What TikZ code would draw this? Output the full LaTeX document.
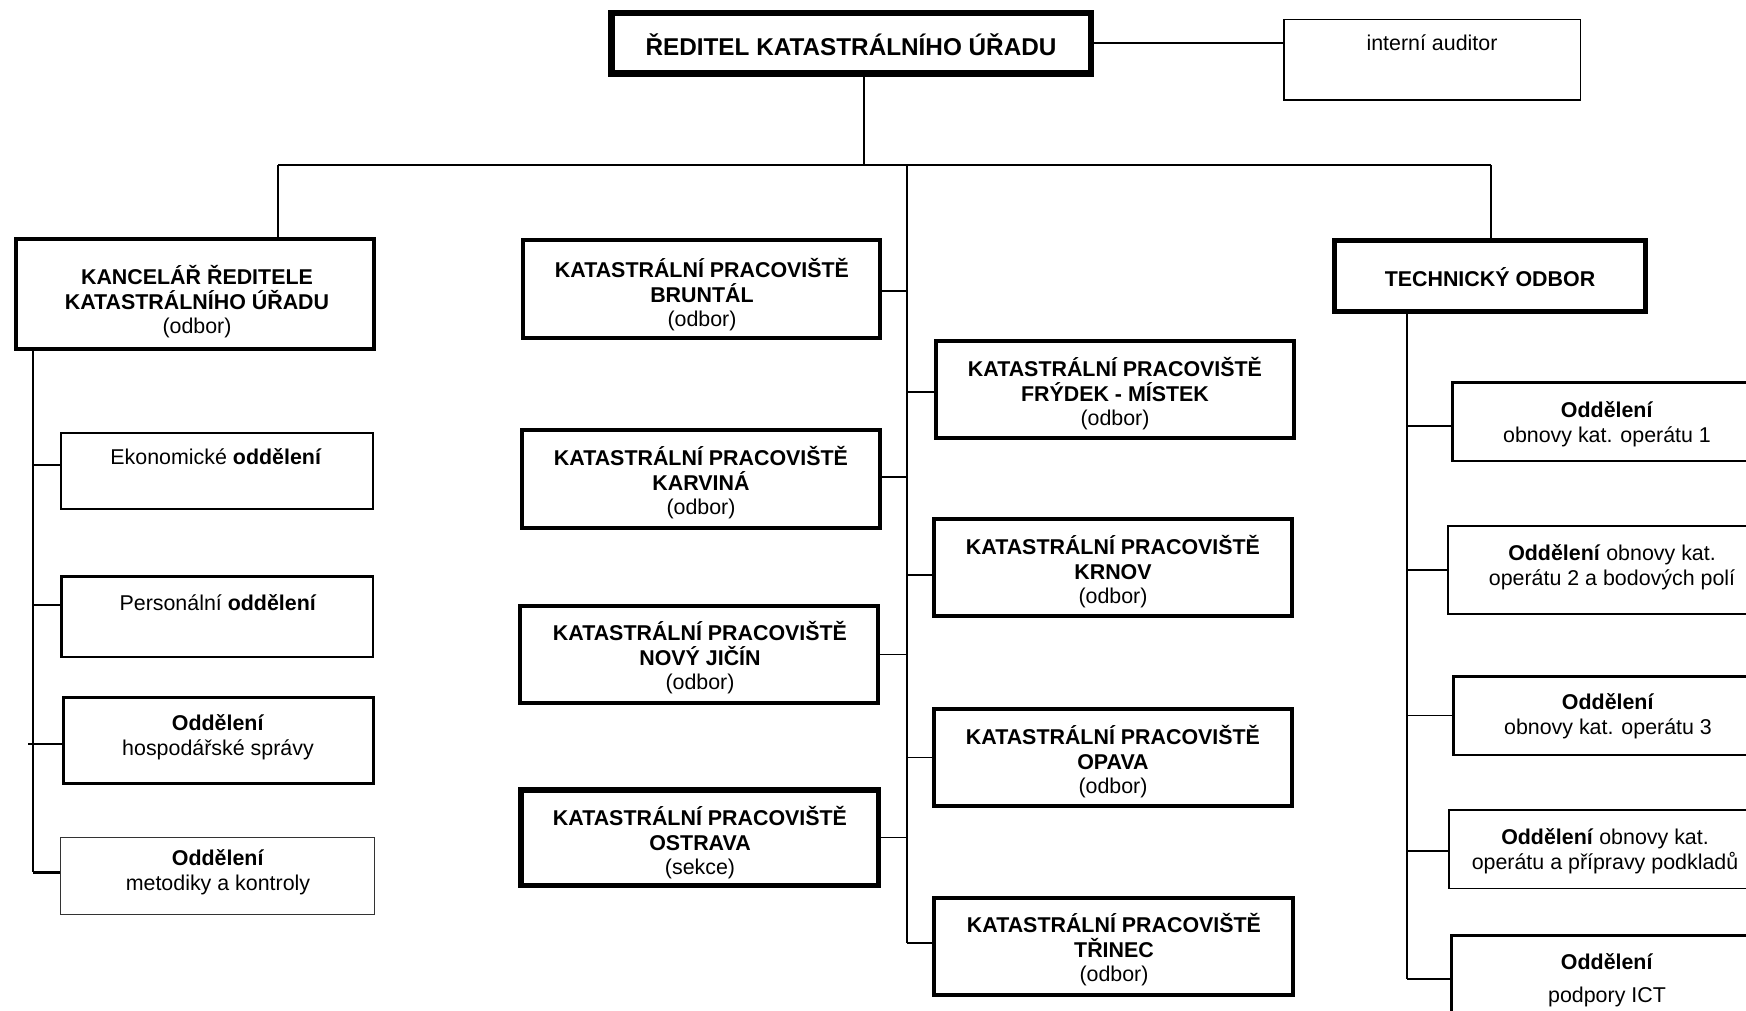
\documentclass[tikz,border=0pt]{standalone}
\usepackage{fontspec}
\setmainfont{Liberation Sans}
\begin{document}
\begin{tikzpicture}[x=1pt,y=-1pt,
  box/.style={draw=black, rectangle, inner sep=0pt},
  txt/.style={align=center, inner sep=0pt, font=\fontsize{21.4}{24.5}\selectfont},
  conn/.style={draw=black, line width=1.5pt}]
\useasboundingbox (0,0) rectangle (1746,1011);
\clip (0,0) rectangle (1746,1011);
\fill[white] (0,0) rectangle (1746,1011);

% top
\node[box, line width=6.5pt, minimum width=479.5pt, minimum height=60.5pt] (dir) at (851,43.5) {};
\node[txt, font=\fontsize{24.3}{28}\selectfont\bfseries] (dirt) at (851,45) {ŘEDITEL KATASTRÁLNÍHO ÚŘADU};
\node[box, line width=1.5pt, minimum width=296.5pt, minimum height=80.5pt] (aud) at (1432,60) {};
\node[txt] (audt) at (1432,43) {interní auditor};

% left column
\node[box, line width=4pt, minimum width=358pt, minimum height=110pt] (kan) at (195,294) {};
\node[txt] (kant) at (197,302) {\textbf{KANCELÁŘ ŘEDITELE}\\\textbf{KATASTRÁLNÍHO ÚŘADU}\\(odbor)};
\node[box, line width=2pt, minimum width=312pt, minimum height=76pt] (eko) at (217,471) {};
\node[txt] (ekot) at (216,457) {Ekonomické \textbf{oddělení}};
\node[box, line width=2.5pt, minimum width=311.5pt, minimum height=80.5pt] (per) at (217,616.5) {};
\node[txt] (pert) at (218,603) {Personální \textbf{oddělení}};
\node[box, line width=3pt, minimum width=310pt, minimum height=86pt] (hos) at (218.5,740.5) {};
\node[txt] (host) at (218,737) {\textbf{Oddělení}\\hospodářské správy};
\node[box, line width=1pt, draw=black!80, minimum width=314pt, minimum height=77pt] (met) at (217.5,876) {};
\node[txt] (mett) at (218,872) {\textbf{Oddělení}\\metodiky a kontroly};

% middle left column
\node[box, line width=4pt, minimum width=357pt, minimum height=98pt] (bru) at (701.5,289) {};
\node[txt] (brut) at (702,295) {\textbf{KATASTRÁLNÍ PRACOVIŠTĚ}\\\textbf{BRUNTÁL}\\(odbor)};
\node[box, line width=4pt, minimum width=358pt, minimum height=98pt] (kar) at (701,479) {};
\node[txt] (kart) at (701,483) {\textbf{KATASTRÁLNÍ PRACOVIŠTĚ}\\\textbf{KARVINÁ}\\(odbor)};
\node[box, line width=4pt, minimum width=358pt, minimum height=97pt] (nj) at (699,654.5) {};
\node[txt] (njt) at (700,658) {\textbf{KATASTRÁLNÍ PRACOVIŠTĚ}\\\textbf{NOVÝ JIČÍN}\\(odbor)};
\node[box, line width=5.5pt, minimum width=357.5pt, minimum height=95.5pt] (ost) at (699.5,837.5) {};
\node[txt] (ostt) at (700,843) {\textbf{KATASTRÁLNÍ PRACOVIŠTĚ}\\\textbf{OSTRAVA}\\(sekce)};

% middle right column
\node[box, line width=4pt, minimum width=358pt, minimum height=97pt] (fm) at (1115,389.5) {};
\node[txt] (fmt) at (1115,394) {\textbf{KATASTRÁLNÍ PRACOVIŠTĚ}\\\textbf{FRÝDEK - MÍSTEK}\\(odbor)};
\node[box, line width=4pt, minimum width=358pt, minimum height=97pt] (krn) at (1113,567.5) {};
\node[txt] (krnt) at (1113,572) {\textbf{KATASTRÁLNÍ PRACOVIŠTĚ}\\\textbf{KRNOV}\\(odbor)};
\node[box, line width=4pt, minimum width=358pt, minimum height=97pt] (opa) at (1113,757.5) {};
\node[txt] (opat) at (1113,762) {\textbf{KATASTRÁLNÍ PRACOVIŠTĚ}\\\textbf{OPAVA}\\(odbor)};
\node[box, line width=4pt, minimum width=359pt, minimum height=97pt] (tri) at (1113.5,946.5) {};
\node[txt] (trit) at (1114,950) {\textbf{KATASTRÁLNÍ PRACOVIŠTĚ}\\\textbf{TŘINEC}\\(odbor)};

% right column
\node[box, line width=5pt, minimum width=311pt, minimum height=71pt] (tec) at (1490,276) {};
\node[txt] (tect) at (1490,277) {\textbf{TECHNICKÝ ODBOR}};
\node[box, line width=2.5pt, minimum width=312.5pt, minimum height=78.5pt] (o1) at (1608.5,421.5) {};
\node[txt] (o1t) at (1607,424) {\textbf{Oddělení}\\obnovy kat. operátu 1};
\node[box, line width=2pt, minimum width=317pt, minimum height=88pt] (o2) at (1606.5,570) {};
\node[txt] (o2t) at (1612,567) {\textbf{Oddělení} obnovy kat.\\operátu 2 a bodových polí};
\node[box, line width=2.5pt, minimum width=311.5pt, minimum height=78.5pt] (o3) at (1609,715.5) {};
\node[txt] (o3t) at (1608,716) {\textbf{Oddělení}\\obnovy kat. operátu 3};
\node[box, line width=1.5pt, minimum width=316.5pt, minimum height=78.5pt] (o4) at (1607,849) {};
\node[txt] (o4t) at (1605,851) {\textbf{Oddělení} obnovy kat.\\operátu a přípravy podkladů};
\node[box, line width=3pt, minimum width=313pt, minimum height=93pt] (o5) at (1608,982) {};
\node[txt] (o5t) at (1607,980) {\textbf{Oddělení}\\[9pt]podpory ICT};

% junction coordinates
\coordinate (hL) at (278,165);
\coordinate (hR) at (1491,165);
\coordinate (jTop) at (864,165);
\coordinate (mTop) at (907,165);
\coordinate (mBot) at (907,943);
\coordinate (lTop) at (33,351);
\coordinate (lBot) at (33,872);
\coordinate (lOut) at (28,744);
\coordinate (tTop) at (1407,314);
\coordinate (tBot) at (1407,979);

% connectors
\draw[conn, line width=2pt] (dir.east) -- (aud.west |- dir.east);
\draw[conn] (dir.south -| jTop) -- (jTop);
\draw[conn, line width=2.5pt] (hL) -- (hR);
\draw[conn] (hL) -- (kan.north -| hL);
\draw[conn] (hR) -- (tec.north -| hR);
\draw[conn] (mTop) -- (mBot);

\draw[conn] ([yshift=-2pt]bru.east) -- ([yshift=-2pt]bru.east -| mTop);
\draw[conn] ([yshift=2pt]kar.east) -- ([yshift=2pt]kar.east -| mTop);
\draw[conn] (nj.east) -- (nj.east -| mTop);
\draw[conn] (ost.east) -- (ost.east -| mTop);
\draw[conn] ([yshift=-2.5pt]fm.west) -- ([yshift=-2.5pt]fm.west -| mTop);
\draw[conn] ([yshift=-7.5pt]krn.west) -- ([yshift=-7.5pt]krn.west -| mTop);
\draw[conn] (opa.west) -- (opa.west -| mTop);
\draw[conn] (tri.west |- mBot) -- (mBot);

\draw[conn, line width=2.5pt] (kan.south -| lTop) -- (lBot);
\draw[conn] ([yshift=6pt]eko.west) -- ([yshift=6pt]eko.west -| lTop);
\draw[conn] ([yshift=11.5pt]per.west) -- ([yshift=11.5pt]per.west -| lTop);
\draw[conn] (hos.west |- lOut) -- (lOut);
\draw[conn, line width=3pt] (met.west |- lBot) -- (lBot);

\draw[conn, line width=2pt] (tec.south -| tTop) -- (tBot);
\draw[conn] ([yshift=-4.5pt]o1.west) -- ([yshift=-4.5pt]o1.west -| tTop);
\draw[conn] (o2.west) -- (o2.west -| tTop);
\draw[conn] (o3.west) -- (o3.west -| tTop);
\draw[conn] ([yshift=-2pt]o4.west) -- ([yshift=-2pt]o4.west -| tTop);
\draw[conn] (o5.west |- tBot) -- (tBot);
\end{tikzpicture}
\end{document}
